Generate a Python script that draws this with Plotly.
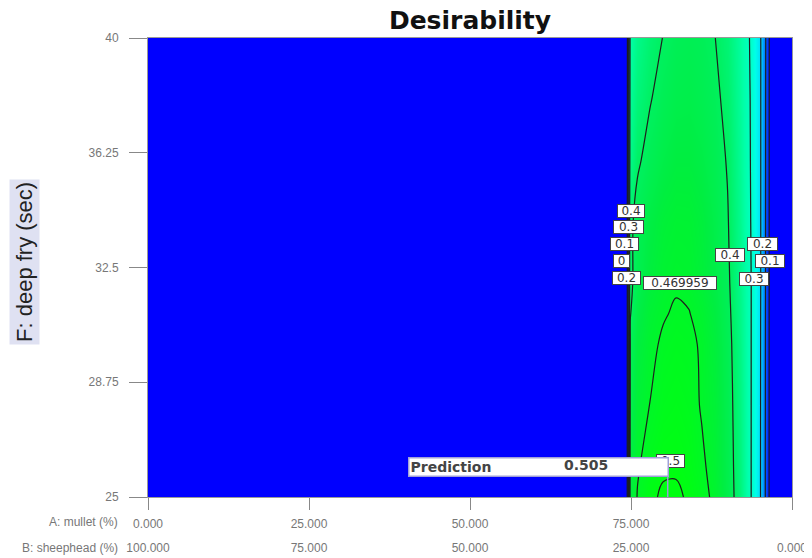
import plotly.graph_objects as go

# ---- data ----
mullet = [0, 74.3, 74.9, 76, 78, 80, 82, 84, 86, 88, 90, 92, 93.5, 95, 96, 97, 98, 100]
deep_fry = [25, 26, 28, 30, 31, 32, 34, 36, 38, 40]
desirability = [
    [-0.1, -0.1, 0.44, 0.472, 0.495, 0.504, 0.504, 0.497, 0.482, 0.462, 0.425, 0.375, 0.31, 0.215, 0.08, -0.1, -0.1, -0.1],
    [-0.1, -0.1, 0.435, 0.466, 0.486, 0.496, 0.497, 0.49, 0.476, 0.457, 0.423, 0.373, 0.31, 0.215, 0.08, -0.1, -0.1, -0.1],
    [-0.1, -0.1, 0.42, 0.452, 0.471, 0.484, 0.488, 0.483, 0.467, 0.452, 0.42, 0.37, 0.31, 0.216, 0.082, -0.1, -0.1, -0.1],
    [-0.1, -0.1, 0.41, 0.44, 0.462, 0.475, 0.48, 0.477, 0.466, 0.446, 0.416, 0.366, 0.31, 0.217, 0.083, -0.1, -0.1, -0.1],
    [-0.1, -0.1, 0.398, 0.43, 0.455, 0.467, 0.474, 0.471, 0.46, 0.44, 0.412, 0.363, 0.31, 0.218, 0.084, -0.1, -0.1, -0.1],
    [-0.1, -0.1, 0.39, 0.42, 0.445, 0.46, 0.466, 0.463, 0.45, 0.432, 0.408, 0.36, 0.31, 0.22, 0.085, -0.1, -0.1, -0.1],
    [-0.1, -0.1, 0.39, 0.415, 0.435, 0.45, 0.457, 0.456, 0.445, 0.427, 0.403, 0.356, 0.305, 0.22, 0.086, -0.1, -0.1, -0.1],
    [-0.1, -0.1, 0.36, 0.394, 0.415, 0.43, 0.44, 0.44, 0.432, 0.418, 0.397, 0.35, 0.302, 0.22, 0.087, -0.1, -0.1, -0.1],
    [-0.1, -0.1, 0.345, 0.375, 0.398, 0.415, 0.425, 0.427, 0.42, 0.41, 0.388, 0.345, 0.3, 0.22, 0.088, -0.1, -0.1, -0.1],
    [-0.1, -0.1, 0.33, 0.36, 0.385, 0.401, 0.413, 0.416, 0.412, 0.401, 0.38, 0.34, 0.297, 0.22, 0.09, -0.1, -0.1, -0.1],
]
x_ticks = [0, 25, 50, 75, 100]
x_tick_mullet = ["0.000", "25.000", "50.000", "75.000", "100.000"]
x_tick_sheephead = ["100.000", "75.000", "50.000", "25.000", "0.000"]
y_ticks = [25, 28.75, 32.5, 36.25, 40]
y_tick_labels = ["25", "28.75", "32.5", "36.25", "40"]
extra_levels = [0.469959, 0.5]
contour_label_text = ["0.4", "0.3", "0.1", "0", "0.2", "0.469959", "0.4", "0.2", "0.1", "0.3", "0.5"]
pred_x = 80.7
pred_y = 25
pred_value = 0.505

# ---- layout constants ----
label_pos = [(74.96, 34.35), (74.65, 33.82), (74.03, 33.27), (73.56, 32.71), (74.34, 32.16),
             (82.58, 31.99), (90.36, 32.91), (95.49, 33.27), (96.58, 32.71), (94.09, 32.12),
             (81.2, 26.19)]
label_w = [26, 29, 27, 15, 27, 72, 28, 29, 28, 28, 27]
flag_top = 25.65

# page body has an 8px margin, so the figure is sized/offset to compensate
W, H = 804, 550

ZMAX = 0.5
cstops = [(0.0, "#0000FF"), (0.1, "#0060FF"), (0.2, "#00D0FF"), (0.26, "#00FFE8"),
          (0.33, "#00FFA8"), (0.40, "#00F060"), (0.44, "#00EE40"), (0.5, "#00FF10")]
cscale = [[z / ZMAX, c] for z, c in cstops]
line_col = "#1e1e1e"

fig = go.Figure()
fig.add_trace(go.Contour(
    x=mullet, y=deep_fry, z=desirability,
    colorscale=cscale, zmin=0, zmax=ZMAX, zauto=False, showscale=False,
    contours=dict(start=0, end=0.4, size=0.1, coloring="heatmap", showlines=True),
    line=dict(color=line_col, width=1.2), hoverinfo="skip",
))
for lv in extra_levels:
    fig.add_trace(go.Contour(
        x=mullet, y=deep_fry, z=desirability, showscale=False,
        contours=dict(start=lv, end=lv, size=0.1, coloring="none", showlines=True),
        line=dict(color=line_col, width=1.2), hoverinfo="skip",
    ))
fig.add_trace(go.Scatter(x=[pred_x, pred_x], y=[pred_y, flag_top], mode="lines",
                         line=dict(color="#9a9ad8", width=1.5), hoverinfo="skip", showlegend=False))
fig.add_trace(go.Scatter(x=x_ticks, y=[pred_y] * len(x_ticks), xaxis="x2", mode="markers",
                         marker=dict(opacity=0), hoverinfo="skip", showlegend=False))

ann = []
for t, (lx, ly), w in zip(contour_label_text, label_pos, label_w):
    ann.append(dict(x=lx, y=ly, xref="x", yref="y", text=t, showarrow=False,
                    font=dict(family="DejaVu Sans", size=12, color="#333"),
                    bgcolor="white", bordercolor="#444", borderwidth=1, borderpad=0,
                    width=w, height=12, align="center"))
ann.append(dict(x=pred_x, y=flag_top, xref="x", yref="y", xanchor="right", yanchor="bottom",
                xshift=1, text="Prediction", showarrow=False, align="left", width=256, height=15,
                font=dict(family="DejaVu Sans", size=14, color="#444", weight="bold"),
                bgcolor="white", bordercolor="#a0a0d8", borderwidth=1.5, borderpad=1))
ann.append(dict(x=pred_x, y=flag_top, xref="x", yref="y", xanchor="right", yanchor="bottom",
                xshift=-58, yshift=2, text=f"{pred_value:.3f}", showarrow=False,
                font=dict(family="DejaVu Sans", size=14, color="#444", weight="bold")))
ann.append(dict(x=-0.191, y=0.512, xref="paper", yref="paper", xanchor="center", yanchor="middle",
                text="F: deep fry (sec)", textangle=-90, showarrow=False,
                bgcolor="#dfe1f2", borderpad=2,
                font=dict(family="Liberation Sans, Arial", size=22, color="#222")))
ann.append(dict(x=-0.0435, y=-0.0545, xref="paper", yref="paper", xanchor="right", yanchor="middle",
                text="A: mullet (%)", showarrow=False,
                font=dict(family="Liberation Sans, Arial", size=12, color="#777")))
ann.append(dict(x=-0.0435, y=-0.111, xref="paper", yref="paper", xanchor="right", yanchor="middle",
                text="B: sheephead (%)", showarrow=False,
                font=dict(family="Liberation Sans, Arial", size=12, color="#777")))

tick_font = dict(family="Liberation Sans, Arial", size=12, color="#777")
fig.update_layout(
    width=W, height=H,
    margin=dict(l=140, r=20, t=30, b=61, autoexpand=False),
    paper_bgcolor="white", plot_bgcolor="white",
    showlegend=False,
    title=dict(text="Desirability", x=462 / W, xanchor="center",
               y=1, yanchor="top", yref="container", automargin=False, pad=dict(t=3),
               font=dict(family="DejaVu Sans", size=25, color="#111", weight="bold")),
    xaxis=dict(range=[0, 100], tickvals=x_ticks, ticktext=x_tick_mullet, ticks="outside",
               ticklen=12, tickcolor="#888", showgrid=False, zeroline=False, automargin=False,
               showline=True, linecolor="#999", mirror=True, tickfont=tick_font,
               ticklabelstandoff=4),
    xaxis2=dict(range=[0, 100], overlaying="x", anchor="y", side="bottom", tickvals=x_ticks,
                ticktext=x_tick_sheephead, ticks="", showgrid=False, zeroline=False,
                automargin=False, showline=False, tickfont=tick_font, ticklabelstandoff=42),
    yaxis=dict(range=[25, 40], tickvals=y_ticks, ticktext=y_tick_labels, ticks="outside",
               ticklen=18, tickcolor="#888", showgrid=False, zeroline=False, automargin=False,
               showline=True, linecolor="#999", mirror=True, tickfont=tick_font,
               ticklabelstandoff=8),
    annotations=ann,
)
fig.write_html("out.html")
